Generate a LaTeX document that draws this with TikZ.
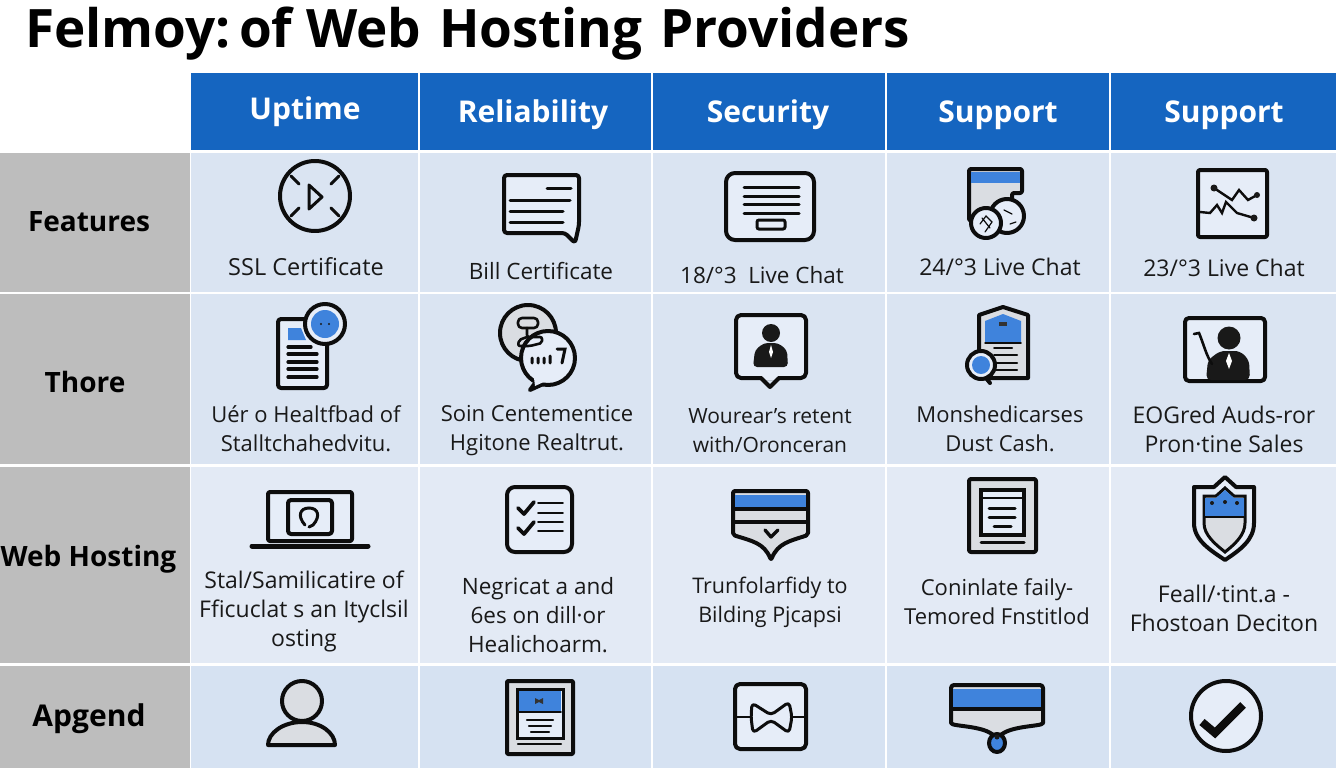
\documentclass[tikz,border=0pt]{standalone}
\usepackage{fontspec}
\setmainfont{Open Sans}
\definecolor{headblue}{HTML}{1565C0}
\definecolor{sidegray}{HTML}{BDBDBD}
\definecolor{rowa}{HTML}{DAE4F2}
\definecolor{rowb}{HTML}{E3EAF5}
\definecolor{rowc}{HTML}{D6E2F2}
\definecolor{iconblue}{HTML}{3F83DC}
\definecolor{icongray}{HTML}{DADDE2}
\definecolor{iconpale}{HTML}{E6EDF8}
\tikzset{
  headtext/.style={text=white,font=\bfseries\fontsize{30}{32}\selectfont},
  sidetext/.style={text=black,inner sep=0pt,font=\bfseries\fontsize{#1}{30}\selectfont},
  sidetext/.default=28,
  celltext/.style={text=black!90,align=center,font=\fontsize{#1}{29}\selectfont},
  celltext/.default=22.5,
  ico/.style={draw=black!95,line width=4pt,line join=round,line cap=round},
  icothin/.style={draw=black!95,line width=3pt,line cap=round},
}
\begin{document}
\begin{tikzpicture}[x=1pt,y=-1pt]
    \useasboundingbox (0,0) rectangle (1344,768);
    % table
    \foreach \xa/\xb/\nm in {191/418/Uptime,420/651/Reliability,653/885/Security,887/1109/Support,1111/1336/Support}{
        \fill[headblue] (\xa,73) rectangle (\xb,150);
        \fill[rowa] (\xa,153) rectangle (\xb,292);
        \fill[rowa] (\xa,294) rectangle (\xb,464);
        \fill[rowb] (\xa,467) rectangle (\xb,663);
        \fill[rowc] (\xa,666) rectangle (\xb,768);
    }
    \fill[sidegray] (0,153) rectangle (190,292);
    \fill[sidegray] (0,294) rectangle (190,464);
    \fill[sidegray] (0,467) rectangle (190,663);
    \fill[sidegray] (0,666) rectangle (190,768);
    % title and headings
    \node[anchor=base west,inner sep=0pt,font=\bfseries\fontsize{53}{56}\selectfont] (title) at (25,48) {Felmoy:\hspace{-10pt} of Web \hspace{4pt}Hosting \hspace{4pt}Providers};
    \node[headtext] (headA) at (305,112) {Uptime};
    \node[headtext] (headB) at (533,115) {Reliability};
    \node[headtext] (headC) at (768,115) {Security};
    \node[headtext] (headD) at (998,115) {Support};
    \node[headtext] (headE) at (1224,115) {Support};
    \node[sidetext] (sideA) at (89,222) {Features};
    \node[sidetext] (sideB) at (85,382) {Thore};
    \node[sidetext] (sideC) at (88.5,559) {Web Hosting};
    \node[sidetext=30] (sideD) at (89,719) {Apgend};
    % cell texts
    \node[celltext=23.5] (cellAA) at (306,267) {SSL Certificate};
    \node[celltext] (cellAB) at (541,271) {Bill Certificate};
    \node[celltext] (cellAC) at (762,275) {18/°3 \ Live Chat};
    \node[celltext=23] (cellAD) at (1000,267) {24/°3 Live Chat};
    \node[celltext=23] (cellAE) at (1224,268) {23/°3 Live Chat};
    \node[celltext=22] (cellBA) at (306,429) {Uér o Healtfbad of\\Stalltchahedvitu.};
    \node[celltext=22] (cellBB) at (537,431) {Soin Centementice\\Hgitone Realtrut.};
    \node[celltext=21] (cellBC) at (770,431) {Wourear's retent\\with/Oronceran};
    \node[celltext=22] (cellBD) at (1000,429) {Monshedicarses\\Dust Cash.};
    \node[celltext=23] (cellBE) at (1224,429) {EOGred Auds-ror\\Pron·tine Sales};
    \node[celltext=23] (cellCA) at (304,611.5) {Stal/Samilicatire of\\Fficuclat s an Ityclsil\\osting};
    \node[celltext] (cellCB) at (538,615) {Negricat a and\\6es on dill·or\\Healichoarm.};
    \node[celltext=21.5] (cellCC) at (770,602) {Trunfolarfidy to\\Bilding Pjcapsi};
    \node[celltext=22] (cellCD) at (997,602) {Coninlate faily-\\Temored Fnstitlod};
    \node[celltext=23] (cellCE) at (1224,608.5) {Feall/·tint.a -\\Fhostoan Deciton};
    % row one icons
    \draw[ico] (315,196) circle[radius=35pt];
    \draw[icothin] (291,176)--(299,184) (339,176)--(331,184) (291,216)--(299,208) (339,216)--(331,208);
    \draw[ico,line width=3pt] (309,185)--(322,197)--(309,209)--cycle;
    \draw[ico,fill=iconpale,rounded corners=3pt] (504,233)--(504,175)--(579,175)--(579,225)--(575,243)--(565,233)--cycle;
    \draw[icothin] (547,188)--(571,188) (510,200)--(570,200) (510,211)--(563,211) (510,222)--(563,222);
    \draw[ico,fill=iconpale,rounded corners=9pt] (726,173) rectangle (814,240);
    \draw[icothin] (744,187)--(799,187) (744,196)--(799,196) (744,204)--(799,204) (744,213)--(799,213);
    \draw[icothin,rounded corners=2pt] (757,220) rectangle (785,229);
    \draw[ico,fill=icongray,rounded corners=2pt] (969,221)--(969,169)--(1022,169)--(1022,193)--(1012,193)--(1012,205)--(990,225)--cycle;
    \fill[iconblue] (971,172) rectangle (1020,183);
    \draw[ico,fill=iconpale] (1007,216) circle[radius=17pt];
    \draw[ico,fill=iconpale] (986,223) circle[radius=15pt];
    \draw[icothin,line width=1.2pt] (980,224)--(986,216)--(992,222)--(985,232) (982,218)--(990,228) (1004,210)--(1012,214) (1016,222)--(1010,224);
    \draw[ico,fill=iconpale,rounded corners=2pt] (1198,170) rectangle (1267,237);
    \draw[icothin,line width=2.4pt] (1214,188)--(1232,200)--(1239,190)--(1248,200)--(1257,195);
    \draw[icothin,line width=2.4pt] (1200,212)--(1210,213)--(1217,205)--(1222,213)--(1226,202)--(1237,213)--(1254,218);
    \fill[black!90] (1214,188) circle[radius=3.5pt] (1257,195) circle[radius=3pt] (1254,218) circle[radius=3.5pt];
    % row two icons
    \draw[ico,fill=iconpale,rounded corners=3pt] (278,319) rectangle (327,388);
    \fill[iconblue] (288,328)--(301,328)--(306,340)--(288,340)--cycle;
    \draw[icothin,line width=3.2pt] (288,347)--(311,347) (288,354)--(317,354) (288,362)--(317,362) (288,369)--(317,369) (288,377)--(317,377);
    \draw[ico,fill=iconpale] (325,324) circle[radius=20pt];
    \fill[iconblue] (325,324) circle[radius=14pt];
    \fill[black!90] (321,324) circle[radius=1.2pt] (329,324) circle[radius=1.2pt];
    \draw[ico,fill=icongray] (528,333) circle[radius=28pt];
    \draw[ico,fill=iconpale] (530,390)--(538,379)--(552,380)--cycle;
    \draw[ico,fill=iconpale] (548,358) circle[radius=27pt];
    \fill[iconpale] (534,378)--(548,380)--(535,386)--cycle;
    \draw[ico,line width=2.6pt,rounded corners=4pt,fill=icongray] (518,318) rectangle (538,328);
    \draw[ico,line width=2.6pt,rounded corners=2pt] (527,328)--(527,337)--(542,337)--(542,343)--(530,346)--(518,346)--(519,340)--(527,337);
    \draw[icothin] (532,358)--(532,363) (538,358)--(538,363) (544,358)--(544,363) (550,356)--(550,363) (557,349)--(565,349)--(562,363);
    \draw[ico,fill=iconpale,rounded corners=5pt] (736,315) rectangle (806,378);
    \fill[iconpale] (762,376) rectangle (778,380);
    \draw[ico] (761,378)--(770,387)--(779,378);
    \fill[black!90] (771,333) circle[radius=9pt];
    \fill[black!90,rounded corners=4pt] (753,367)--(755,350)--(764,343)--(778,343)--(787,350)--(788,367)--cycle;
    \fill[white] (771,345)--(773,352)--(771,358)--(769,352)--cycle;
    \draw[ico,fill=icongray] (979,378)--(979,315)--(1003,307)--(1028,315)--(1028,378)--cycle;
    \fill[iconblue] (985,342)--(985,321)--(1003,314)--(1021,321)--(1021,342)--cycle;
    \draw[icothin,line width=1.5pt] (985,343)--(1021,343);
    \fill[black!80] (999,322) rectangle (1007,326);
    \draw[icothin,line width=2pt] (994,348)--(1012,348) (994,355)--(1017,355) (994,363)--(1017,363) (994,370)--(1017,370);
    \draw[ico] (986,378)--(990,383);
    \draw[ico,fill=iconpale] (981,365) circle[radius=14pt];
    \fill[iconblue] (981,365) circle[radius=9pt];
    \draw[ico,fill=iconpale,rounded corners=4pt] (1185,318) rectangle (1265,381);
    \fill[black!90] (1229,338) circle[radius=11.5pt];
    \fill[black!90,rounded corners=5pt] (1206,380)--(1208,360)--(1220,351)--(1240,351)--(1249,360)--(1250,380)--cycle;
    \fill[white] (1229,353)--(1232,361)--(1229,369)--(1226,361)--cycle;
    \draw[icothin,line width=2.6pt] (1194,334)--(1199,333) .. controls (1204,345) and (1206,355) .. (1212,364);
    % row three icons
    \draw[ico,fill=iconpale,rounded corners=2pt] (268,541)--(268,492)--(352,492)--(352,541)--cycle;
    \draw[ico,line width=5pt] (252,546)--(368,546);
    \draw[ico,rounded corners=3pt] (288,500) rectangle (332,534);
    \draw[icothin] (305,525) .. controls (297,516) and (300,508) .. (309,508) .. controls (318,508) and (321,516) .. (313,525)--(309,527);
    \draw[ico,fill=iconpale,rounded corners=8pt] (507,487) rectangle (572,552);
    \draw[ico,line width=3.8pt] (518,508)--(524,514)--(534,502) (518,528)--(524,534)--(534,522);
    \draw[icothin,line width=1.8pt] (538,503)--(563,503) (538,513)--(563,513) (538,522)--(563,522) (538,531)--(563,531);
    \draw[ico,fill=icongray,rounded corners=2pt] (733,491)--(808,491)--(808,535) .. controls (790,541) and (778,543) .. (771,560) .. controls (764,543) and (752,541) .. (733,535)--cycle;
    \fill[iconblue] (735,495) rectangle (806,507);
    \draw[icothin,line width=4pt,line cap=butt] (733,509)--(808,509) (733,522)--(808,522);
    \draw[ico,line width=3.4pt] (765,530)--(771,537)--(778,530);
    \draw[ico,fill=icongray,rounded corners=2pt] (969,479) rectangle (1036,552);
    \draw[icothin,fill=iconpale,line width=3.2pt,line cap=butt] (981,490) rectangle (1024,535);
    \draw[icothin,line width=1.5pt] (981,498)--(1024,498);
    \draw[icothin] (989,508)--(1015,508) (989,517)--(1015,517) (994,526)--(1011,526) (981,542)--(1024,542);
    \draw[ico,fill=iconpale] (1225,477)--(1236,487)--(1254,487)--(1254,523) .. controls (1254,540) and (1240,550) .. (1225,560) .. controls (1210,550) and (1194,540) .. (1194,523)--(1194,487)--(1214,487)--cycle;
    \draw[icothin,fill=icongray] (1225,488)--(1234,496)--(1245,496)--(1245,523) .. controls (1245,535) and (1235,544) .. (1225,552) .. controls (1215,544) and (1204,535) .. (1204,523)--(1204,496)--(1216,496)--cycle;
    \fill[iconblue] (1225,490)--(1234,498)--(1244,498)--(1244,517)--(1205,517)--(1205,498)--(1216,498)--cycle;
    \draw[icothin,line width=1.8pt] (1205,517)--(1244,517);
    \fill[black!90] (1212,503) circle[radius=2pt] (1225,502) circle[radius=2pt] (1237,503) circle[radius=2pt];
    % row four icons
    \draw[ico,fill=icongray] (302,722) .. controls (283,722) and (268,733) .. (268,745)--(335,745) .. controls (335,733) and (321,722) .. (302,722)--cycle;
    \draw[ico,fill=icongray] (302,701) circle[radius=20pt];
    \draw[ico,fill=icongray,rounded corners=1pt] (507,681) rectangle (573,754);
    \draw[icothin,fill=iconpale,line cap=butt] (517,689) rectangle (563,738);
    \fill[iconblue] (519,691) rectangle (561,711);
    \draw[icothin,line width=1.5pt] (519,712)--(561,712);
    \fill[black!80] (535,698)--(539,700)--(543,698)--(543,704)--(539,702)--(535,704)--cycle;
    \draw[icothin,line width=2.2pt] (527,720)--(553,720) (529,726)--(551,726) (531,732)--(549,732) (518,744)--(561,744);
    \draw[ico,fill=iconpale,rounded corners=5pt] (735,684) rectangle (806,749);
    \draw[icothin,line width=2pt] (735,717)--(751,717) (791,717)--(806,717);
    \draw[ico,line width=3pt,rounded corners=4pt] (752,703)--(771,715)--(789,702)--(792,717)--(789,733)--(771,720)--(753,733)--(751,717)--cycle;
    \draw[ico,fill=icongray,rounded corners=3pt] (951,685)--(1043,685)--(1043,720) .. controls (1043,727) and (1003,725) .. (997,742) .. controls (991,725) and (951,727) .. (951,720)--cycle;
    \fill[iconblue] (953,689) rectangle (1041,707);
    \draw[icothin,line width=4pt,line cap=butt] (951,709)--(1043,709);
    \draw[ico,fill=iconblue] (997,743) ellipse[x radius=8pt,y radius=9pt];
    \fill[black!90] (997,737) circle[radius=2.5pt];
    \draw[ico,fill=iconpale] (1226,716) ellipse[x radius=35pt,y radius=35pt];
    \draw[ico,line width=8pt,line cap=butt,line join=miter] (1202,722)--(1215,733)--(1243,705);
\end{tikzpicture}
\end{document}
